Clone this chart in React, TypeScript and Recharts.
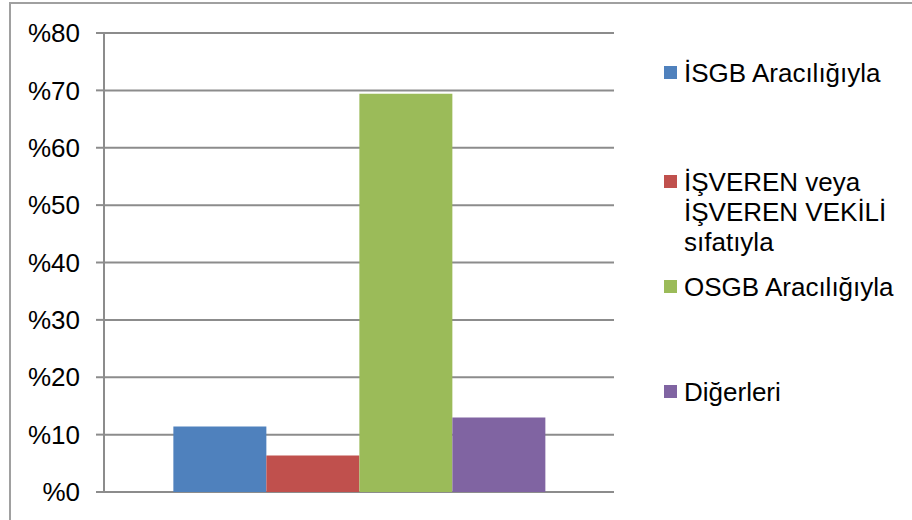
import { BarChart, Bar, XAxis, YAxis, CartesianGrid } from 'recharts'

const seriesNames = ['İSGB Aracılığıyla', 'İŞVEREN veya İŞVEREN VEKİLİ sıfatıyla', 'OSGB Aracılığıyla', 'Diğerleri']
const seriesKeys = ['isgb', 'isveren', 'osgb', 'diger']
const seriesValues = [11.4, 6.35, 69.4, 12.97]
const seriesColors = ['#4F81BD', '#C0504D', '#9BBB59', '#8064A2']
const yTicks = [0, 10, 20, 30, 40, 50, 60, 70, 80]

// legend label lines, one entry per series
const legendLines = [['İSGB Aracılığıyla'], ['İŞVEREN veya', 'İŞVEREN VEKİLİ', 'sıfatıyla'], ['OSGB Aracılığıyla'], ['Diğerleri']]
const legendTops = [58, 167, 272, 377]

const row: Record<string, string | number> = { name: '' }
seriesKeys.forEach((k, i) => {
  row[k] = seriesValues[i]
})
const chartData = [row]

const FONT = '"Liberation Sans", Arial, sans-serif'
const GRID = '#8c8c8c'

function ChartLegend() {
  return (
    <div style={{ position: 'absolute', left: 664, top: 0, width: 248, height: 520, fontFamily: FONT }}>
      {legendLines.map((lines, i) => (
        <div key={i} style={{ position: 'absolute', left: 0, top: legendTops[i], display: 'flex', alignItems: 'flex-start' }}>
          <div style={{ width: 13, height: 13, background: seriesColors[i], marginTop: 8, marginRight: 7, flexShrink: 0 }} />
          <div style={{ fontSize: 26, lineHeight: '30px', color: '#000', whiteSpace: 'nowrap' }}>
            {lines.map((l, j) => (
              <div key={j}>{l}</div>
            ))}
          </div>
        </div>
      ))}
    </div>
  )
}

export default function App() {
  return (
    <div style={{ position: 'absolute', left: 0, top: 0, width: 912, height: 520, overflow: 'hidden', background: '#fff' }}>
      <div style={{ position: 'absolute', left: 9, top: 2, width: 920, height: 540, border: '2px solid #a0a0a0' }} />
      <div style={{ position: 'absolute', left: 0, top: 0 }}>
        <BarChart
          width={912}
          height={520}
          data={chartData}
          margin={{ top: 33, right: 298, bottom: 28, left: 10 }}
          barCategoryGap="13.6%"
          barGap={0}
          style={{ fontFamily: FONT }}
        >
          <CartesianGrid vertical={false} stroke={GRID} strokeWidth={2} />
          <XAxis dataKey="name" hide />
          <YAxis
            domain={[0, 80]}
            ticks={yTicks}
            interval={0}
            width={94}
            tickFormatter={(v: number) => `%${v}`}
            tick={{ fill: '#000', fontSize: 26 }}
            tickSize={8}
            tickMargin={16}
            tickLine={{ stroke: GRID, strokeWidth: 2 }}
            axisLine={{ stroke: GRID, strokeWidth: 2 }}
          />
          {seriesKeys.map((k, i) => (
            <Bar key={k} dataKey={k} name={seriesNames[i]} fill={seriesColors[i]} isAnimationActive={false} />
          ))}
        </BarChart>
      </div>
      <ChartLegend />
    </div>
  )
}
